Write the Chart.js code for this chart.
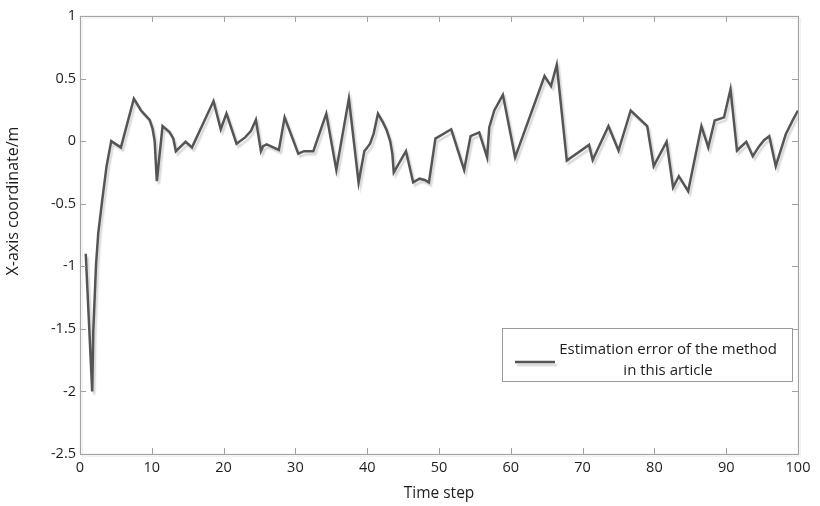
<!DOCTYPE html>
<html>
<head>
<meta charset="utf-8">
<script src="https://cdn.jsdelivr.net/npm/chart.js@4.4.1/dist/chart.umd.min.js"></script>
<style>
  html, body { margin: 0; padding: 0; background: #fff; }
  #wrap { width: 820px; height: 506px; }
</style>
</head>
<body>
<div id="wrap"><canvas id="c" width="820" height="506"></canvas></div>
<script>
// ---- data ----
const timeSteps = [
  0.8, 1.7, 1.85, 2.23, 2.55, 3.1, 3.7, 4.35, 5.7, 7.5, 8.5, 9.7, 10.1, 10.4, 10.7,
  11.5, 12.5, 13.0, 13.35, 14.7, 15.6, 18.6, 19.6, 20.4, 21.8, 23.0, 23.8, 24.5,
  25.2, 25.5, 26.0, 27.7, 28.5, 30.4, 31.2, 32.5, 34.3, 35.7, 37.45, 38.8,
  39.6, 40.4, 40.9, 41.5, 42.2, 42.7, 43.2, 43.5, 43.7, 45.4, 46.4, 47.3, 48.0, 48.6,
  49.5, 51.7, 53.5, 54.4, 55.6, 56.7, 57.0, 57.7, 58.9, 60.6, 64.7, 65.6, 66.4,
  67.8, 70.9, 71.4, 73.6, 75.0, 76.7, 79.0, 79.9, 81.7, 82.6, 83.4, 84.7, 86.55,
  87.5, 88.4, 89.7, 90.6, 91.5, 92.8, 93.7, 94.6, 95.3, 96.0, 96.9, 98.3, 99.2, 100
];
const errorValues = [
  -0.90, -2.00, -1.52, -0.99, -0.73, -0.47, -0.20, 0.00, -0.05, 0.34, 0.245, 0.17, 0.10, 0.00, -0.32,
  0.12, 0.07, 0.02, -0.08, -0.005, -0.05, 0.32, 0.095, 0.22, -0.02, 0.03, 0.08, 0.17,
  -0.08, -0.04, -0.026, -0.07, 0.19, -0.10, -0.08, -0.08, 0.22, -0.23, 0.34, -0.33,
  -0.08, -0.02, 0.06, 0.22, 0.15, 0.09, 0.00, -0.10, -0.25, -0.08, -0.33, -0.30, -0.31, -0.33,
  0.02, 0.095, -0.23, 0.04, 0.07, -0.13, 0.11, 0.245, 0.37, -0.13, 0.52, 0.44, 0.61,
  -0.155, -0.03, -0.15, 0.12, -0.075, 0.245, 0.12, -0.20, -0.005, -0.37, -0.28, -0.40, 0.12,
  -0.05, 0.165, 0.19, 0.415, -0.075, -0.005, -0.12, -0.04, 0.01, 0.04, -0.20, 0.055, 0.16, 0.245
];
const xTicks = [0, 10, 20, 30, 40, 50, 60, 70, 80, 90, 100];
const yTicks = [1, 0.5, 0, -0.5, -1, -1.5, -2, -2.5];
const yTickLabels = ['1', '0.5', '0', '-0.5', '-1', '-1.5', '-2', '-2.5'];
const seriesLabel = ['Estimation error of the method', 'in this article'];
const xTitle = 'Time step';
const yTitle = 'X-axis coordinate/m';

const FONT = "'Open Sans', 'DejaVu Sans', sans-serif";
const LINE = '#555555';
const FRAME = '#a3a3a3';
const TEXT = '#1e1e1e';

const points = timeSteps.map((t, i) => ({ x: t, y: errorValues[i] }));

const shadowPlugin = {
  id: 'lineShadow',
  beforeDatasetDraw(chart) {
    const ctx = chart.ctx;
    ctx.save();
    ctx.shadowColor = 'rgba(0,0,0,0.16)';
    ctx.shadowOffsetX = 2;
    ctx.shadowOffsetY = 3;
    ctx.shadowBlur = 1.5;
  },
  afterDatasetDraw(chart) {
    chart.ctx.restore();
  }
};

const framePlugin = {
  id: 'frameAndLegend',
  afterDraw(chart) {
    const ctx = chart.ctx;
    const a = chart.chartArea;
    const xs = chart.scales.x, ys = chart.scales.y;
    ctx.save();
    // faint frame shadow
    ctx.strokeStyle = 'rgba(0,0,0,0.06)';
    ctx.lineWidth = 1;
    ctx.strokeRect(a.left + 2.5, a.top + 2.5, a.right - a.left, a.bottom - a.top);
    ctx.strokeStyle = FRAME;
    ctx.lineWidth = 1.2;
    ctx.strokeRect(a.left + 0.5, a.top + 0.5, a.right - a.left, a.bottom - a.top);
    // inward tick marks
    ctx.beginPath();
    xTicks.forEach(v => {
      const px = Math.round(xs.getPixelForValue(v)) + 0.5;
      ctx.moveTo(px, a.bottom); ctx.lineTo(px, a.bottom - 6);
      ctx.moveTo(px, a.top); ctx.lineTo(px, a.top + 6);
    });
    yTicks.forEach(v => {
      const py = Math.round(ys.getPixelForValue(v)) + 0.5;
      ctx.moveTo(a.left, py); ctx.lineTo(a.left + 6, py);
      ctx.moveTo(a.right, py); ctx.lineTo(a.right - 6, py);
    });
    ctx.lineWidth = 1;
    ctx.stroke();

    // y-axis title
    ctx.save();
    ctx.fillStyle = TEXT;
    ctx.font = '16px ' + FONT;
    ctx.textAlign = 'center';
    ctx.textBaseline = 'middle';
    ctx.translate(13, 201);
    ctx.rotate(-Math.PI / 2);
    ctx.fillText(yTitle, 0, 0);
    ctx.restore();

    // legend box
    const bx = 502.5, by = 328.5, bw = 290, bh = 53;
    ctx.fillStyle = '#ffffff';
    ctx.fillRect(bx, by, bw, bh);
    ctx.strokeStyle = '#9a9a9a';
    ctx.lineWidth = 1;
    ctx.strokeRect(bx, by, bw, bh);
    ctx.save();
    ctx.shadowColor = 'rgba(0,0,0,0.16)';
    ctx.shadowOffsetX = 2;
    ctx.shadowOffsetY = 3;
    ctx.shadowBlur = 1.5;
    ctx.strokeStyle = LINE;
    ctx.lineWidth = 2.5;
    ctx.beginPath();
    ctx.moveTo(515, 362); ctx.lineTo(555, 362);
    ctx.stroke();
    ctx.restore();
    ctx.fillStyle = TEXT;
    ctx.font = '15px ' + FONT;
    ctx.textAlign = 'center';
    ctx.textBaseline = 'middle';
    ctx.fillText(seriesLabel[0], 668, 350);
    ctx.fillText(seriesLabel[1], 668, 371);
    ctx.restore();
  }
};

new Chart(document.getElementById('c'), {
  type: 'line',
  data: {
    datasets: [{
      label: seriesLabel.join(' '),
      data: points,
      borderColor: LINE,
      borderWidth: 2.5,
      pointRadius: 0,
      tension: 0,
      fill: false
    }]
  },
  options: {
    responsive: false,
    animation: false,
    layout: { padding: { top: 16, right: 22, left: 0, bottom: 0 } },
    plugins: { legend: { display: false }, tooltip: { enabled: false } },
    scales: {
      x: {
        type: 'linear',
        min: 0, max: 100,
        grid: { display: false, drawTicks: false },
        border: { display: false },
        afterBuildTicks: s => { s.ticks = xTicks.map(v => ({ value: v })); },
        afterFit: s => { s.height = 52; },
        ticks: {
          padding: 5,
          color: TEXT,
          font: { family: FONT, size: 14.5 },
          maxRotation: 0,
          autoSkip: false,
          callback: v => String(v)
        },
        title: {
          display: true, text: xTitle, color: TEXT,
          font: { family: FONT, size: 15.5 }, padding: { top: 4, bottom: 3 }
        }
      },
      y: {
        type: 'linear',
        min: -2.5, max: 1,
        grid: { display: false, drawTicks: false },
        border: { display: false },
        afterBuildTicks: s => { s.ticks = yTicks.map(v => ({ value: v })); },
        afterFit: s => { s.width = 80; },
        ticks: {
          padding: 4,
          color: TEXT,
          font: { family: FONT, size: 14.5 },
          autoSkip: false,
          callback: v => { const i = yTicks.indexOf(v); return i >= 0 ? yTickLabels[i] : ''; }
        },
        title: { display: false }
      }
    }
  },
  plugins: [shadowPlugin, framePlugin]
});
</script>
</body>
</html>
